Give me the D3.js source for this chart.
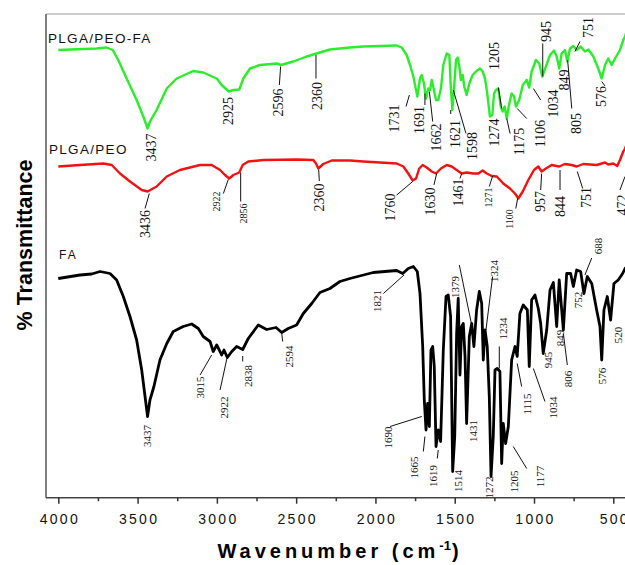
<!DOCTYPE html>
<html><head><meta charset="utf-8">
<script src="https://cdn.jsdelivr.net/npm/d3@7"></script>
<style>body{margin:0;background:#fff}svg{display:block}</style>
</head><body><svg id="c" width="625" height="565"></svg>
<script>
// ---- data: [wavenumber cm-1, transmittance (arbitrary units)] ----
const seriesNames = ["PLGA/PEO-FA", "PLGA/PEO", "FA"];
const xTicks = [4000, 3500, 3000, 2500, 2000, 1500, 1000, 500];
const xMinorTicks = [3750, 3250, 2750, 2250, 1750, 1250, 750];

const plgaPeoFa = [[4000,90],[3758,90.3],[3695,90.5],[3657,90],[3622,88],[3569,84.3],[3506,80],[3464,76.7],[3437,74.3],[3422,75.7],[3380,78],[3316,82.3],[3253,84.3],[3149,85.8],[3086,85.5],[3001,84.3],[2970,83],[2925,81.7],[2896,82],[2859,82.1],[2833,84.3],[2791,86.3],[2728,87],[2623,87.3],[2596,87],[2518,87.7],[2434,88.7],[2371,89.3],[2287,90.1],[2161,90.5],[2077,90.7],[1866,90.9],[1835,90.5],[1803,89],[1782,87],[1761,84.7],[1736,80.7],[1719,84.3],[1708,85],[1694,83.3],[1681,80.3],[1667,82.3],[1656,82],[1645,84],[1631,82],[1618,80],[1604,80],[1587,82.3],[1572,87],[1551,89.3],[1534,89],[1526,83.3],[1515,78],[1505,82],[1492,88],[1481,88.5],[1471,86.7],[1461,84],[1450,85],[1440,82.7],[1425,81],[1408,83.3],[1387,85],[1366,85.7],[1341,86.3],[1324,85.7],[1309,84.3],[1295,81.3],[1278,76.7],[1263,77],[1252,81.3],[1240,82],[1225,82.3],[1210,78.7],[1198,77.7],[1185,78.7],[1172,76.3],[1156,79.3],[1141,81.3],[1126,80.7],[1114,78.7],[1093,80],[1071,83],[1046,84],[1030,82.5],[1015,85.7],[988,88],[967,87.3],[948,84.7],[925,86.7],[899,89],[874,89.9],[857,88.7],[841,86.3],[826,89.3],[805,90],[790,87.7],[773,90.3],[752,90.8],[731,90],[706,90.7],[679,89.7],[658,90.1],[626,88.7],[595,86.3],[573,84.3],[552,87],[532,88.3],[510,87],[489,88.3],[458,90],[437,92],[426,92.7],[405,95]];

const plgaPeo = [[4000,66.7],[3863,67],[3716,67.3],[3663,67],[3611,65.3],[3548,63.7],[3474,62],[3436,61.7],[3380,62.7],[3316,64.7],[3233,66],[3106,67],[3033,67],[2980,66],[2949,65],[2922,64.3],[2896,65],[2859,65.5],[2837,67],[2802,67.7],[2707,68],[2497,68.1],[2392,68],[2375,67.3],[2360,66.3],[2329,67.2],[2276,67.9],[2161,67.9],[2077,67.7],[1866,67.3],[1824,66.7],[1793,65.3],[1765,63.9],[1744,64.3],[1724,66.3],[1702,67],[1677,66.5],[1645,65.7],[1618,65.3],[1587,66.3],[1551,67],[1519,66.7],[1488,66],[1456,65.3],[1425,65.5],[1383,65.3],[1351,65.3],[1324,65.9],[1298,65.3],[1267,64.8],[1235,64.7],[1194,63.3],[1152,62.3],[1120,61.3],[1099,60.3],[1071,61.7],[1036,64],[1000,66],[973,66.7],[952,65.7],[925,66.3],[889,67],[841,66.7],[805,67.2],[763,67],[731,66.7],[689,67.2],[605,67],[552,67.5],[532,67.1],[500,67.3],[475,66.8],[458,68],[437,69.7],[426,70.3],[405,72]];

const fa = [[4000,44.3],[3863,45],[3789,45.2],[3737,45.7],[3674,45.3],[3632,44],[3590,40.7],[3548,36.7],[3506,32],[3474,26],[3453,20.7],[3437,16.7],[3422,20],[3397,22.7],[3359,28],[3316,31.3],[3275,33.7],[3212,34.7],[3159,35.2],[3117,34.3],[3086,32.7],[3043,31.7],[3023,29.7],[3001,31],[2985,30],[2970,29],[2955,30],[2934,28.5],[2906,29.7],[2875,30.7],[2837,30.1],[2802,32.3],[2739,35],[2686,34.1],[2627,34.5],[2591,33.5],[2550,34.3],[2497,35],[2455,37.3],[2402,39.3],[2350,41.5],[2287,42.3],[2224,43.7],[2161,44.3],[2014,45.5],[1866,45.9],[1828,45.3],[1793,46.3],[1761,46.7],[1736,45.7],[1719,41.3],[1702,30.7],[1692,20],[1681,14],[1671,19.3],[1660,14.7],[1650,30],[1639,30.7],[1629,26.7],[1618,10.7],[1604,14],[1589,11.7],[1572,30],[1555,40.7],[1541,41],[1526,36.7],[1513,5.7],[1500,12.7],[1488,33.3],[1478,40.3],[1467,25],[1456,34.7],[1446,35.3],[1435,28.7],[1425,15.3],[1408,32.7],[1393,35.3],[1379,30.7],[1362,38],[1345,41.7],[1330,39.3],[1320,28],[1309,34],[1295,30.7],[1282,20.7],[1271,4.7],[1257,12.7],[1246,26],[1232,26.3],[1215,25.7],[1204,7.3],[1194,15.3],[1179,11.3],[1162,14.7],[1141,28],[1120,30.7],[1106,28.7],[1089,37.3],[1068,39],[1042,38],[1030,26.7],[1015,40],[994,41],[973,38.3],[958,35.3],[942,29.3],[920,34],[899,42],[878,43.5],[857,34.7],[841,44],[815,34],[794,45.3],[769,45.3],[752,42.7],[731,46],[706,45.7],[685,41.3],[664,44.7],[636,43.3],[605,38],[584,34.7],[573,28],[559,38],[538,40.7],[517,36],[496,43.3],[469,44],[441,45.3],[426,46.3],[405,47]];

// peak labels: text, text centre [wavenumber, transmittance], optional leader [w1,t1,w2,t2]
const peaksPlgaPeoFa = [
 {t:"3437",w:3411,v:70.5},{t:"2925",w:2928,v:77.8},
 {t:"2596",w:2613,v:79.5,l:[2598,86.7,2606,83]},{t:"2360",w:2367,v:80.8,l:[2375,89,2375,84.3]},
 {t:"1731",w:1877,v:76.3,l:[1786,81,1807,78.7]},{t:"1691",w:1724,v:76,l:[1688,81.3,1688,79]},
 {t:"1662",w:1618,v:72.5,l:[1660,81.7,1639,75.7]},{t:"1621",w:1498,v:73.2,l:[1525,78,1525,77.2]},
 {t:"1598",w:1387,v:70.8,l:[1509,82,1429,73.3]},{t:"1274",w:1252,v:73.5},
 {t:"1205",w:1252,v:88.8,l:[1225,82.5,1204,78.3]},{t:"1175",w:1093,v:71.7,l:[1172,76.3,1151,73.3]},
 {t:"1106",w:958,v:73.3,l:[1106,78.3,1046,76.3]},{t:"1034",w:874,v:79.3,l:[1004,82.3,958,80]},
 {t:"945",w:920,v:93.7,l:[945,91.3,945,84.7]},{t:"849",w:809,v:84},
 {t:"805",w:731,v:75.3,l:[788,88,762,78.3]},{t:"751",w:658,v:94.5,l:[742,89.7,710,91.7]},
 {t:"576",w:573,v:80.7,l:[573,83.7,552,82.8]}];
const peaksPlgaPeo = [
 {t:"3436",w:3447,v:55.2,l:[3426,61.3,3453,58.3]},{t:"2922",w:3001,v:59.7,s:1,l:[2928,64.1,2959,61.3]},
 {t:"2856",w:2833,v:57.3,s:1,l:[2850,65.5,2850,59.7]},{t:"2360",w:2350,v:60.5,l:[2358,66.1,2354,63.8]},
 {t:"1760",w:1904,v:58.5,l:[1765,63.7,1866,61]},{t:"1630",w:1652,v:59.7,l:[1614,65.3,1631,63]},
 {t:"1461",w:1478,v:61.5,l:[1456,65.3,1467,64.3]},{t:"1271",w:1288,v:60.5,s:1,l:[1261,64.8,1282,62.7]},
 {t:"1100",w:1152,v:56.2,s:1,l:[1103,60.3,1115,58.3]},{t:"957",w:958,v:59.7,l:[952,65.3,958,62]},
 {t:"844",w:836,v:58.7,l:[836,66,836,62]},{t:"751",w:668,v:60.5,l:[727,65.7,693,62.3]},
 {t:"472",w:441,v:59,l:[426,64.7,458,62]}];
const peaksFa = [
 {t:"3437",w:3439,v:12.8},{t:"3015",w:3106,v:22.5,l:[3033,29,3106,25]},
 {t:"2922",w:2953,v:18.5,l:[2934,28.7,2980,22]},{t:"2838",w:2802,v:24.8,l:[2837,28.8,2837,27.7]},
 {t:"2594",w:2543,v:28.7,l:[2591,33.3,2585,31.7]},{t:"1821",w:1992,v:39.8,l:[1820,45,1950,41.3]},
 {t:"1379",w:1498,v:42.6,l:[1471,47,1393,35]},{t:"1324",w:1252,v:45.8,l:[1261,44.7,1303,34]},
 {t:"1234",w:1198,v:34.3,l:[1219,30.7,1219,26.3]},{t:"1690",w:1919,v:12.5,l:[1908,14.7,1708,16.7]},
 {t:"1665",w:1757,v:6.5,l:[1688,12.7,1698,9.7]},{t:"1619",w:1639,v:4.8,l:[1604,10,1610,8.3]},
 {t:"1514",w:1478,v:3.8},{t:"1431",w:1383,v:13.8},{t:"1272",w:1282,v:2.5},{t:"1205",w:1126,v:3.7},
 {t:"1177",w:962,v:4.7,l:[1131,10.7,1046,6.3]},{t:"1115",w:1046,v:19.2,l:[1106,27.3,1078,22.7]},
 {t:"1034",w:882,v:18.5,l:[1004,26.3,931,19.7]},{t:"945",w:910,v:28},{t:"849",w:836,v:32.4},
 {t:"806",w:784,v:24.2,l:[815,33.3,790,27]},{t:"752",w:721,v:40},
 {t:"688",w:595,v:50.8,l:[679,45,636,48.4]},{t:"576",w:573,v:24.8},{t:"520",w:469,v:33}];

// ---- drawing ----
const svg = d3.select("#c");
const L = 46, T = 14, B = 497.7, R = 625;
const x = d3.scaleLinear().domain([4000, 500]).range([58.3, 613.3]);
const y = d3.scaleLinear().domain([0, 100]).range([500, 0]);

svg.append("rect").attr("width",625).attr("height",565).attr("fill","#fff");
svg.append("defs").append("clipPath").attr("id","clip")
  .append("rect").attr("x",L).attr("y",T).attr("width",R-L+10).attr("height",B-T);

// frame
svg.append("line").attr("x1",L).attr("x2",R).attr("y1",T).attr("y2",T).attr("stroke","#999").attr("stroke-width",1.2);
svg.append("line").attr("x1",L).attr("x2",L).attr("y1",T).attr("y2",B).attr("stroke","#555").attr("stroke-width",1.5);
svg.append("line").attr("x1",L).attr("x2",R).attr("y1",B).attr("y2",B).attr("stroke","#444").attr("stroke-width",1.5);

// axis
const ax = svg.append("g").attr("transform",`translate(0,${B})`)
  .call(d3.axisBottom(x).tickValues(xTicks).tickSize(6).tickPadding(10).tickFormat(d3.format("d")));
ax.select(".domain").remove();
ax.selectAll(".tick line").attr("stroke","#333").attr("stroke-width",1.5);
ax.selectAll("text").attr("font-family","Arial, 'Liberation Sans', sans-serif").attr("font-size",14)
  .attr("letter-spacing","2.3px").attr("fill","#111").attr("dx","1px");
const axm = svg.append("g").attr("transform",`translate(0,${B})`)
  .call(d3.axisBottom(x).tickValues(xMinorTicks).tickSize(3.5).tickFormat(""));
axm.select(".domain").remove();
axm.selectAll(".tick line").attr("stroke","#333").attr("stroke-width",1.5);

// spectra
const line = d3.line().x(d => x(d[0])).y(d => y(d[1])).curve(d3.curveLinear);
const g = svg.append("g").attr("clip-path","url(#clip)");
[[plgaPeoFa,"#2aee2a",2.4],[plgaPeo,"#f21212",2.4],[fa,"#000",2.8]].forEach(([d,c,w]) => {
  g.append("path").datum(d).attr("d",line).attr("fill","none").attr("stroke",c)
   .attr("stroke-width",w).attr("stroke-linejoin","round");
});

// peak labels
function drawPeaks(list, size, small) {
  const gp = svg.append("g");
  list.forEach(p => {
    if (p.l) gp.append("line").attr("x1",x(p.l[0])).attr("y1",y(p.l[1])).attr("x2",x(p.l[2])).attr("y2",y(p.l[3]))
      .attr("stroke","#111").attr("stroke-width",1);
    const px = x(p.w), py = y(p.v);
    gp.append("text").attr("transform",`translate(${px},${py}) rotate(-90)`)
      .attr("text-anchor","middle").attr("dominant-baseline","central")
      .attr("font-family","'Liberation Serif','Times New Roman',serif")
      .attr("font-size", p.s ? small : size).attr("fill","#111").text(p.t);
  });
}
drawPeaks(peaksPlgaPeoFa, 14, 10);
drawPeaks(peaksPlgaPeo, 14, 10);
drawPeaks(peaksFa, 11, 10);

// series names
const sf = "Arial, 'Liberation Sans', sans-serif";
svg.append("text").attr("x",48).attr("y",43).attr("font-family",sf).attr("font-size",13.5).attr("letter-spacing","1.3px").attr("fill","#111").text(seriesNames[0]);
svg.append("text").attr("x",49).attr("y",153.5).attr("font-family",sf).attr("font-size",13.5).attr("letter-spacing","1.3px").attr("fill","#111").text(seriesNames[1]);
svg.append("text").attr("x",59).attr("y",258.5).attr("font-family",sf).attr("font-size",12).attr("letter-spacing","2px").attr("fill","#111").text(seriesNames[2]);

// axis titles
const xt = svg.append("text").attr("x",340).attr("y",558).attr("text-anchor","middle")
  .attr("font-family",sf).attr("font-weight","bold").attr("font-size",20).attr("letter-spacing","4px").attr("fill","#000");
xt.append("tspan").text("Wavenumber (cm");
xt.append("tspan").attr("dy",-8).attr("font-size",13).attr("letter-spacing","0px").text("-1");
xt.append("tspan").attr("dy",8).attr("dx",1).text(")");
svg.append("text").attr("transform","translate(32,245) rotate(-90)").attr("text-anchor","middle")
  .attr("font-family",sf).attr("font-weight","bold").attr("font-size",21.5).attr("fill","#000").text("% Transmittance");
</script></body></html>
